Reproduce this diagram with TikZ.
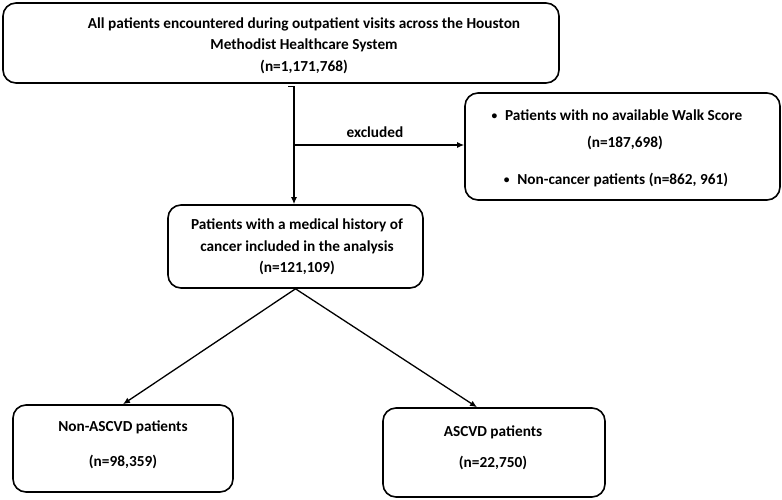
\documentclass[tikz,border=0pt]{standalone}
\usepackage{fontspec}
\setmainfont{Carlito}
\usetikzlibrary{arrows.meta,calc}
\tikzset{
  box/.style={draw, line width=1.6pt, rounded corners=13pt, minimum width=#1, inner sep=0pt},
  txt/.style={font=\fontsize{15.3}{21.5}\selectfont\bfseries, align=center, inner sep=0pt},
  arr/.style={line width=1.3pt, -{Latex[length=7pt,width=6pt]}}
}
\newcommand{\smbullet}{\raisebox{0.15ex}{\scalebox{0.75}{\textbullet}}\enspace}
\begin{document}
\begin{tikzpicture}[x=1pt,y=-1pt]
\useasboundingbox (0,0) rectangle (782,499);
\node[box=556pt, minimum height=80pt] (top) at (281,43) {};
\node[txt] (toptext) at (304,45.5) {All patients encountered during outpatient visits across the Houston\\Methodist Healthcare System\\(n=1,171,768)};
\node[box=255pt, minimum height=83pt] (mid) at (295.5,246.5) {};
\node[txt] (midtext) at (297,247) {Patients with a medical history of\\cancer included in the analysis\\(n=121,109)};
\node[box=315pt, minimum height=107pt] (excl) at (622.5,146.5) {};
\node[txt] (excla) at (617,115) {\smbullet Patients with no available Walk Score};
\node[txt] (exclb) at (625,143) {(n=187,698)};
\node[txt] (exclc) at (616,180) {\smbullet Non-cancer patients (n=862, 961)};
\node[box=220pt, minimum height=87pt] (left) at (123,448.5) {};
\node[txt] (lefta) at (123,427) {Non-ASCVD patients};
\node[txt] (leftb) at (123,462) {(n=98,359)};
\node[box=222pt, minimum height=89pt] (right) at (494,452.5) {};
\node[txt] (righta) at (493,432) {ASCVD patients};
\node[txt] (rightb) at (493,463) {(n=22,750)};
\coordinate (tj) at (294,0);
\coordinate (ex) at (294,145);
\coordinate (rt) at (477,0);
\draw[arr] ($(tj |- top.south)+(-6,3)$) -- ++(6,0) -- (tj |- mid.north);
\draw[arr] (ex) -- (ex -| excl.west);
\node[txt] (exlabel) at (375,132) {excluded};
\draw[arr] (mid.south) -- (left.north);
\draw[arr] (mid.south) -- (rt |- right.north);
\end{tikzpicture}
\end{document}
